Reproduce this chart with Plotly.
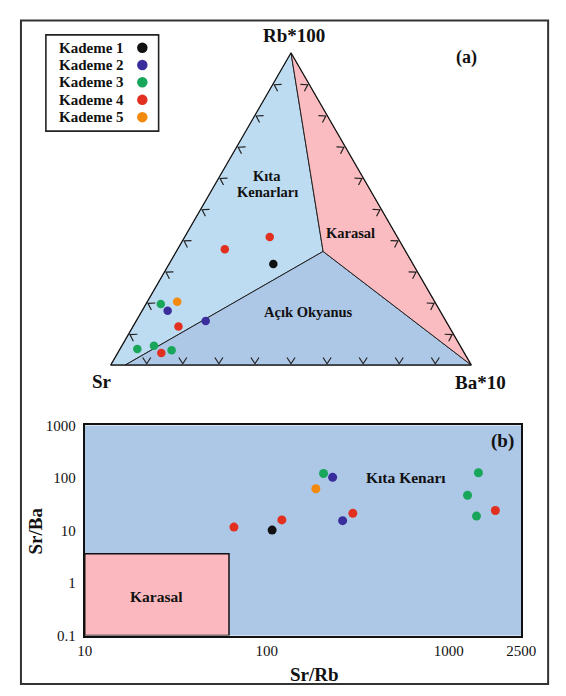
import numpy as np
import plotly.graph_objects as go

W, H = 566, 696
FONT = "Liberation Serif"

# ---------------- data ----------------
kademe_names = ["Kademe 1", "Kademe 2", "Kademe 3", "Kademe 4", "Kademe 5"]
kademe_colors = ["#111111", "#3a2e9c", "#18a65a", "#e1301f", "#f38a0d"]

# Panel (a): ternary Rb*100 - Sr - Ba*10 (fractions)
tern_kademe = [4, 4, 1, 3, 5, 2, 4, 2, 3, 3, 4, 3]
tern_rb100 = [0.410, 0.371, 0.324, 0.196, 0.203, 0.174, 0.124, 0.141, 0.052, 0.062, 0.039, 0.048]
tern_sr = [0.354, 0.498, 0.387, 0.763, 0.714, 0.755, 0.750, 0.666, 0.900, 0.849, 0.840, 0.807]
tern_ba10 = [0.236, 0.131, 0.289, 0.041, 0.083, 0.071, 0.126, 0.193, 0.048, 0.089, 0.121, 0.145]

# Ternary field boundaries
kita_rb = [1, 0, 0, 0.364, 1]
kita_sr = [0, 1, 0.96, 0.229, 0]
kita_ba = [0, 0, 0.04, 0.407, 0]
okyanus_rb = [0, 0, 0.364, 0]
okyanus_sr = [0.96, 0, 0.229, 0.96]
okyanus_ba = [0.04, 1, 0.407, 0.04]
karasal_rb = [1, 0.364, 0, 1]
karasal_sr = [0, 0.229, 0, 0]
karasal_ba = [0, 0.407, 1, 0]
tick_fracs = [0.1, 0.2, 0.3, 0.4, 0.5, 0.6, 0.7, 0.8, 0.9]

# Panel (b): Sr/Rb vs Sr/Ba
b_kademe = [4, 1, 4, 5, 3, 2, 2, 4, 3, 3, 3, 4]
sr_rb = [66, 107, 121, 186, 205, 230, 261, 297, 1267, 1454, 1419, 1802]
sr_ba = [11.6, 10.2, 15.9, 62.5, 122, 103, 15.4, 21.2, 47, 126, 18.8, 24]
karasal_b_x = [10, 62, 62, 10, 10]
karasal_b_y = [0.1, 0.1, 3.6, 3.6, 0.1]
xticks_b = [10, 100, 1000, 2500]
yticks_b = [0.1, 1, 10, 100, 1000]

# ---------------- helpers ----------------
def px(x):
    return x / W

def py(y):
    return 1 - y / H

s3 = np.sqrt(3)

def cart2tern(x, y):
    a = y * 2 / s3
    c = x - a / 2
    b = 1 - a - c
    return a, b, c

TRI_L, TRI_R, TRI_BOTTOM = 107.0, 483.0, 368.5
TRI_W = TRI_R - TRI_L
TRI_H = TRI_W * s3 / 2
tri_cy = TRI_BOTTOM - TRI_H / 2

fig = go.Figure()

# Ternary fields
for ra, rb, rc, col in [
    (kita_rb, kita_sr, kita_ba, "#bedcf1"),
    (okyanus_rb, okyanus_sr, okyanus_ba, "#adc7e7"),
    (karasal_rb, karasal_sr, karasal_ba, "#fbbcc1"),
]:
    fig.add_trace(go.Scatterternary(a=ra, b=rb, c=rc, mode="lines", fill="toself",
                                    fillcolor=col, line=dict(color="#222222", width=1),
                                    hoverinfo="skip", showlegend=False))

# Chevron tick marks along the edges
u = 1 / TRI_W
voff, alen, half = 1.5 * u, 8.0 * u, 4.2 * u
ca, cb, cc = [], [], []
for t in tick_fracs:
    edges = [
        ((t, 0.0), (0.0, 1.0), (1.0, 0.0)),
        ((t / 2, t * s3 / 2), (s3 / 2, -0.5), (0.5, s3 / 2)),
        ((1 - t / 2, t * s3 / 2), (-s3 / 2, -0.5), (-0.5, s3 / 2)),
    ]
    for (p0, n, d) in edges:
        pts = [
            (p0[0] + n[0] * alen + d[0] * half, p0[1] + n[1] * alen + d[1] * half),
            (p0[0] + n[0] * voff, p0[1] + n[1] * voff),
            (p0[0] + n[0] * alen - d[0] * half, p0[1] + n[1] * alen - d[1] * half),
        ]
        for (x, y) in pts:
            a, b, c = cart2tern(x, y)
            ca.append(a); cb.append(b); cc.append(c)
        ca.append(None); cb.append(None); cc.append(None)
fig.add_trace(go.Scatterternary(a=ca, b=cb, c=cc, mode="lines",
                                line=dict(color="#222222", width=1.2),
                                hoverinfo="skip", showlegend=False, connectgaps=False))

# Ternary points
for k in range(1, 6):
    idx = [i for i, kk in enumerate(tern_kademe) if kk == k]
    fig.add_trace(go.Scatterternary(
        a=[tern_rb100[i] for i in idx], b=[tern_sr[i] for i in idx], c=[tern_ba10[i] for i in idx],
        mode="markers", marker=dict(color=kademe_colors[k - 1], size=8.5),
        name=kademe_names[k - 1], showlegend=False))

# Panel (b) Karasal box
fig.add_trace(go.Scatter(x=karasal_b_x, y=karasal_b_y, mode="lines", fill="toself",
                         fillcolor="#fbb9bf", line=dict(color="#111111", width=1.5),
                         hoverinfo="skip", showlegend=False, xaxis="x", yaxis="y"))
for k in range(1, 6):
    idx = [i for i, kk in enumerate(b_kademe) if kk == k]
    fig.add_trace(go.Scatter(x=[sr_rb[i] for i in idx], y=[sr_ba[i] for i in idx],
                             mode="markers", marker=dict(color=kademe_colors[k - 1], size=9),
                             name=kademe_names[k - 1], showlegend=False, xaxis="x", yaxis="y"))

# Custom legend markers on overlay pixel axis
legend_rows_y = [40.7, 58.3, 76.0, 94.0, 111.7]
fig.add_trace(go.Scatter(x=[140] * 5, y=legend_rows_y, mode="markers",
                         marker=dict(color=kademe_colors, size=10.5),
                         hoverinfo="skip", showlegend=False, xaxis="x2", yaxis="y2"))

annotations = []
def ann(text, x, y, size, anchor="center", angle=0):
    annotations.append(dict(text="<b>%s</b>" % text, x=px(x), y=py(y), xref="paper", yref="paper",
                            showarrow=False, xanchor=anchor, yanchor="middle", textangle=angle,
                            font=dict(family=FONT, size=size, color="#111111")))

for name, yy in zip(kademe_names, legend_rows_y):
    ann(name, 51, yy, 15, anchor="left")
ann("Rb*100", 298, 28, 19)
ann("Sr", 98, 382, 19)
ann("Ba*10", 492, 383, 19)
ann("(a)", 478, 51, 18)
ann("Kıta", 270, 172, 14.5)
ann("Kenarları", 270, 188.5, 14.5)
ann("Karasal", 357, 230, 14.5)
ann("Açık Okyanus", 313, 311, 14.5)
ann("(b)", 515, 443.5, 19)
ann("Kıta Kenarı", 415, 481, 15.5)
ann("Karasal", 155, 602, 15.5)
ann("Sr/Rb", 320, 682, 19)
ann("Sr/Ba", 29, 535, 19, angle=-90)

shapes = [
    dict(type="rect", xref="x domain", yref="y domain", x0=0, x1=1, y0=0, y1=1,
         fillcolor="#adc7e7", line=dict(width=0), layer="below"),
    dict(type="rect", xref="paper", yref="paper", x0=px(13.5), x1=px(563), y0=py(692), y1=py(12.7),
         line=dict(color="#333333", width=2), fillcolor="rgba(0,0,0,0)"),
    dict(type="rect", xref="paper", yref="paper", x0=px(39.5), x1=px(157), y0=py(126), y1=py(27.5),
         line=dict(color="#222222", width=1.6), fillcolor="rgba(0,0,0,0)"),
]

axis_common = dict(showgrid=False, showticklabels=False, ticks="", linecolor="#111111",
                   linewidth=1.2, title=dict(text=""))

fig.update_layout(
    width=W, height=H, margin=dict(l=0, r=0, t=0, b=0),
    paper_bgcolor="white", plot_bgcolor="rgba(0,0,0,0)",
    showlegend=False,
    ternary=dict(
        sum=1, bgcolor="rgba(0,0,0,0)",
        domain=dict(x=[px(TRI_L), px(TRI_R)], y=[py(tri_cy + 180), py(tri_cy - 180)]),
        aaxis=axis_common, baxis=axis_common, caxis=axis_common,
    ),
    xaxis=dict(type="log", range=[1, np.log10(2500)], domain=[px(80), px(535)], anchor="y",
               tickvals=xticks_b, ticktext=[str(v) for v in xticks_b], ticks="",
               showline=True, mirror=True, linecolor="#111111", linewidth=2,
               showgrid=False, zeroline=False,
               tickfont=dict(family=FONT, size=15, color="#111111")),
    yaxis=dict(type="log", range=[-1, 3], domain=[py(642.3), py(427.3)], anchor="x",
               tickvals=yticks_b, ticktext=["0.1", "1", "10", "100", "1000"], ticks="",
               showline=True, mirror=True, linecolor="#111111", linewidth=2,
               showgrid=False, zeroline=False, ticklabelstandoff=4,
               tickfont=dict(family=FONT, size=15, color="#111111")),
    xaxis2=dict(domain=[0, 1], range=[0, W], anchor="y2", visible=False, fixedrange=True),
    yaxis2=dict(domain=[0, 1], range=[H, 0], anchor="x2", visible=False, fixedrange=True),
    annotations=annotations,
    shapes=shapes,
)

fig.write_html("out.html", config={"displayModeBar": False},
               post_script="document.body.style.margin='0';")
